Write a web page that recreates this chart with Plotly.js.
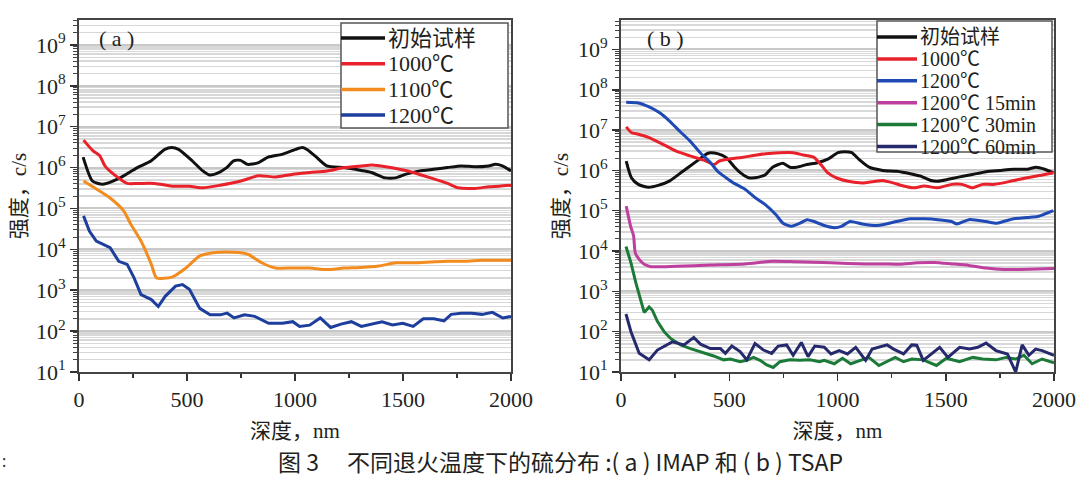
<!DOCTYPE html>
<html>
<head>
<meta charset="utf-8">
<script src="https://cdn.plot.ly/plotly-3.0.1.min.js"></script>
<style>
html,body{margin:0;padding:0;background:#fff;}
#chart{width:1080px;height:478px;}
</style>
</head>
<body>
<div id="chart"></div>
<script>
// ---------------- data: panel (a) IMAP ----------------
var seriesNamesA = ['初始试样', '1000℃', '1100℃', '1200℃'];
var seriesNamesB = ['初始试样', '1000℃', '1200℃', '1200℃ 15min', '1200℃ 30min', '1200℃ 60min'];

var a_init_depth = [19,62,110,190,270,333,397,429,461,525,573,605,636,684,716,748,780,828,876,939,1003,1035,1059,1099,1147,1227,1306,1354,1418,1466,1514,1577,1641,1705,1769,1833,1896,1928,1960,2000];
var a_init_val   = [1.8e6,4.7e5,3.9e5,5.6e5,1.0e6,1.45e6,2.8e6,3.1e6,2.8e6,1.45e6,8.3e5,6.6e5,7.1e5,1.0e6,1.45e6,1.5e6,1.2e6,1.3e6,1.8e6,2.1e6,2.8e6,3.1e6,2.7e6,1.8e6,1.1e6,1.0e6,8.5e5,7.6e5,5.6e5,5.6e5,6.9e5,8.3e5,9.1e5,1.0e6,1.1e6,1.05e6,1.1e6,1.2e6,1.1e6,8.3e5];

var a_1000_depth = [21,64,96,120,160,223,271,351,431,511,575,654,750,830,910,990,1069,1149,1229,1309,1357,1420,1484,1547,1628,1706,1755,1834,1898,1946,2000];
var a_1000_val   = [4.7e6,2.6e6,1.95e6,1.1e6,6.9e5,4.1e5,4.1e5,4.1e5,3.5e5,3.5e5,3.2e5,3.7e5,4.7e5,6.3e5,5.9e5,6.9e5,7.6e5,8.3e5,1.0e6,1.1e6,1.15e6,1.05e6,9.1e5,7.6e5,5.6e5,4.1e5,3.2e5,3.1e5,3.4e5,3.5e5,3.7e5];

var a_1100_depth = [21,80,144,207,239,287,335,359,431,495,559,622,718,782,846,910,990,1068,1148,1227,1307,1387,1468,1547,1627,1706,1786,1866,2000];
var a_1100_val   = [4.7e5,3.0e5,1.8e5,8.7e4,4.2e4,1.6e4,4.3e3,2.0e3,2.1e3,3.5e3,6.9e3,8.3e3,8.5e3,7.6e3,4.7e3,3.5e3,3.5e3,3.5e3,3.2e3,3.5e3,3.6e3,3.9e3,4.7e3,4.7e3,4.9e3,5.1e3,5.1e3,5.4e3,5.4e3];

var a_1200_depth = [21,48,80,112,144,184,223,255,287,335,367,399,447,479,511,559,607,654,686,718,766,814,878,942,990,1021,1068,1117,1165,1213,1261,1307,1355,1403,1451,1499,1547,1594,1643,1690,1723,1770,1818,1866,1914,1962,2000];
var a_1200_val   = [6.6e4,2.8e4,1.6e4,1.3e4,1.1e4,5.1e3,4.3e3,2.0e3,780,590,400,710,1260,1380,1050,360,250,250,275,210,250,230,155,155,170,130,140,210,123,148,170,130,148,170,141,155,130,200,200,178,257,275,275,257,288,209,229];

// ---------------- data: panel (b) TSAP ----------------
var b_init_depth = [24,48,80,127,175,223,286,350,398,414,446,485,525,557,589,636,668,700,748,780,811,859,907,955,1002,1034,1066,1098,1146,1209,1273,1336,1384,1432,1464,1511,1559,1623,1686,1750,1814,1877,1917,1957,1997];
var b_init_val   = [1.7e6,6.6e5,4.5e5,3.8e5,4.3e5,5.4e5,9.5e5,1.7e6,2.6e6,2.75e6,2.6e6,2.1e6,1.2e6,8.3e5,6.6e5,6.8e5,7.9e5,1.2e6,1.5e6,1.2e6,1.2e6,1.4e6,1.55e6,1.9e6,2.75e6,2.9e6,2.75e6,1.9e6,1.2e6,1.0e6,9.5e5,8.3e5,7.2e5,5.6e5,5.4e5,6.0e5,6.8e5,7.9e5,9.3e5,1.0e6,1.07e6,1.07e6,1.2e6,1.07e6,8.7e5];

var b_1000_depth = [24,48,80,127,191,255,318,382,430,453,493,557,605,668,732,796,843,891,923,955,1002,1050,1114,1177,1209,1257,1305,1352,1400,1464,1527,1575,1623,1670,1718,1766,1814,1877,1941,1997];
var b_1000_val   = [1.2e7,8.7e6,7.9e6,6.6e6,4.5e6,3.0e6,2.3e6,1.8e6,1.4e6,1.7e6,1.9e6,2.1e6,2.3e6,2.6e6,2.75e6,2.75e6,2.4e6,2.1e6,1.4e6,8.7e5,6.3e5,5.4e5,4.9e5,5.4e5,5.6e5,4.9e5,4.1e5,3.7e5,4.1e5,3.7e5,4.5e5,4.5e5,3.7e5,4.5e5,4.5e5,4.9e5,5.6e5,6.6e5,7.6e5,8.7e5];

var b_1200_depth = [24,80,127,175,223,270,318,366,414,446,485,525,573,620,668,716,748,787,827,859,891,939,986,1018,1058,1114,1177,1225,1273,1336,1400,1464,1527,1551,1607,1686,1734,1766,1814,1877,1925,1957,1997];
var b_1200_val   = [4.9e7,4.7e7,3.8e7,2.75e7,1.7e7,9.5e6,5.4e6,2.75e6,1.55e6,9.5e5,6.6e5,4.7e5,3.4e5,2.1e5,1.4e5,7.9e4,4.9e4,4.1e4,4.9e4,6.0e4,5.4e4,4.3e4,3.8e4,4.1e4,5.4e4,4.7e4,4.3e4,4.7e4,5.4e4,6.3e4,6.3e4,6.0e4,5.4e4,4.7e4,6.0e4,5.4e4,4.9e4,5.4e4,6.3e4,6.8e4,7.2e4,8.3e4,1.0e5];

var b_15_depth = [24,45,58,66,84,107,138,255,414,573,700,811,970,1130,1209,1289,1368,1448,1527,1607,1686,1766,1845,1925,2000];
var b_15_val   = [1.3e5,4.0e4,2.4e4,9.0e3,6.2e3,4.7e3,4.1e3,4.2e3,4.5e3,4.8e3,5.6e3,5.4e3,5.1e3,4.8e3,4.8e3,4.7e3,5.1e3,5.2e3,4.8e3,4.4e3,3.8e3,3.5e3,3.5e3,3.6e3,3.7e3];

var b_30_depth = [23,46,69,92,107,130,145,168,199,229,275,321,367,428,474,505,550,581,612,642,673,703,734,780,826,872,917,939,985,1023,1061,1107,1145,1191,1229,1267,1305,1343,1396,1457,1503,1564,1625,1671,1732,1778,1823,1861,1899,1945,2000];
var b_30_val   = [1.3e4,5.1e3,1.6e3,620,300,410,340,180,100,68,47,38,32,25,20,21,18,19.5,23,19.5,15,13,18,20,19.5,20,18,19.5,16,22,16,19.5,23,14.5,18,23,18,21,20,14.5,22,18,23,21,20,23,21,26,16,21,17];

var b_60_depth = [23,46,84,130,168,237,291,336,367,413,459,482,512,550,581,619,658,696,726,765,795,833,864,895,939,970,1008,1046,1084,1130,1160,1229,1259,1305,1343,1366,1396,1472,1510,1564,1610,1648,1686,1732,1785,1823,1853,1884,1915,1945,2000];
var b_60_val   = [275,100,29,20,35,56,47,72,49,38,38,29,44,32,20,51,35,29,44,47,26,54,24,44,41,28,34,28,41,19.5,37,47,37,28,47,46,19.5,41,23,41,37,41,52,34,28,10,47,26,37,34,26];

// tick labels
var xTickVals = [0, 500, 1000, 1500, 2000];
var xTickText = ['0', '500', '1000', '1500', '2000'];
var yTickVals = [1e1, 1e2, 1e3, 1e4, 1e5, 1e6, 1e7, 1e8, 1e9];
var yTickText = ['10<sup>1</sup>','10<sup>2</sup>','10<sup>3</sup>','10<sup>4</sup>','10<sup>5</sup>','10<sup>6</sup>','10<sup>7</sup>','10<sup>8</sup>','10<sup>9</sup>'];

var colorsA = ['#111111', '#e8212a', '#f28c1e', '#1d3e9c'];
var colorsB = ['#111111', '#e8212a', '#1f49b4', '#bf3f9e', '#1b7a37', '#262a6c'];

// ---------------- build ----------------
var serifFont = 'Liberation Serif, Noto Sans CJK SC, serif';
var txtColor = '#231f20';

var minorVals = [];
for (var e = 1; e <= 9; e++) { for (var m = 2; m <= 9; m++) { minorVals.push(m * Math.pow(10, e)); } }

function mk(x, y, name, color, xa, ya, shape) {
  return {x: x, y: y, name: name, type: 'scatter', mode: 'lines', xaxis: xa, yaxis: ya,
    line: {color: color, width: 3, shape: shape || 'linear', smoothing: 0.6}, showlegend: false, hoverinfo: 'skip'};
}

var traces = [
  mk(a_init_depth, a_init_val, seriesNamesA[0], colorsA[0], 'x', 'y', 'spline'),
  mk(a_1000_depth, a_1000_val, seriesNamesA[1], colorsA[1], 'x', 'y', 'spline'),
  mk(a_1100_depth, a_1100_val, seriesNamesA[2], colorsA[2], 'x', 'y', 'spline'),
  mk(a_1200_depth, a_1200_val, seriesNamesA[3], colorsA[3], 'x', 'y'),
  mk(b_init_depth, b_init_val, seriesNamesB[0], colorsB[0], 'x2', 'y2', 'spline'),
  mk(b_1000_depth, b_1000_val, seriesNamesB[1], colorsB[1], 'x2', 'y2', 'spline'),
  mk(b_1200_depth, b_1200_val, seriesNamesB[2], colorsB[2], 'x2', 'y2', 'spline'),
  mk(b_15_depth, b_15_val, seriesNamesB[3], colorsB[3], 'x2', 'y2', 'spline'),
  mk(b_30_depth, b_30_val, seriesNamesB[4], colorsB[4], 'x2', 'y2'),
  mk(b_60_depth, b_60_val, seriesNamesB[5], colorsB[5], 'x2', 'y2')
];

var W = 1080, H = 478, ML = 79, MR = 26, MT = 20, MB = 106;
var PW = W - ML - MR, PH = H - MT - MB;
function px(x) { return (x - ML) / PW; }
function py(y) { return (H - MB - y) / PH; }

function xAxis(domain) {
  return {
    domain: domain, range: [0, 2000], tickmode: 'array', tickvals: xTickVals, ticktext: xTickText,
    ticks: 'outside', ticklen: 7, tickwidth: 1.5, tickcolor: '#333',
    minor: {tickmode: 'linear', tick0: 0, dtick: 250, ticks: 'outside', ticklen: 4, tickwidth: 1.5, tickcolor: '#333', showgrid: false},
    showline: true, linecolor: '#444', linewidth: 2, mirror: true, showgrid: false, zeroline: false,
    tickfont: {family: serifFont, size: 22, color: txtColor},
    title: {text: '深度，nm', font: {family: serifFont, size: 21, color: txtColor}, standoff: 12}
  };
}
function yAxis(top, anchor) {
  return {
    type: 'log', range: [1, top], anchor: anchor, tickmode: 'array', tickvals: yTickVals, ticktext: yTickText,
    ticks: 'outside', ticklen: 7, tickwidth: 1.5, tickcolor: '#333',
    minor: {tickmode: 'array', tickvals: minorVals, ticks: 'outside', ticklen: 4, tickwidth: 1, tickcolor: '#444',
            showgrid: true, gridcolor: '#d8d8d8', gridwidth: 1.5},
    showgrid: true, gridcolor: '#c8c8c8', gridwidth: 2,
    showline: true, linecolor: '#444', linewidth: 2, mirror: true, zeroline: false,
    tickfont: {family: serifFont, size: 22, color: txtColor},
    title: {text: '强度，c/s', font: {family: serifFont, size: 21, color: txtColor}, standoff: 4}
  };
}

var shapes = [], annotations = [];

function legend(names, colors, x0, x1, y0, y1, firstY, step, lineEnd, fs) {
  shapes.push({type: 'rect', xref: 'paper', yref: 'paper', x0: px(x0), x1: px(x1), y0: py(y1), y1: py(y0),
    line: {color: '#555', width: 1.5}, fillcolor: '#ffffff', layer: 'above'});
  for (var i = 0; i < names.length; i++) {
    var yy = firstY + i * step;
    shapes.push({type: 'line', xref: 'paper', yref: 'paper', x0: px(x0), x1: px(lineEnd), y0: py(yy), y1: py(yy),
      line: {color: colors[i], width: 3.5}, layer: 'above'});
    annotations.push({xref: 'paper', yref: 'paper', x: px(lineEnd + 1), y: py(yy), xanchor: 'left', yanchor: 'middle',
      text: names[i], showarrow: false, font: {family: serifFont, size: fs, color: txtColor}});
  }
}
legend(seriesNamesA, colorsA, 341, 508, 23, 128, 38, 25.7, 385, 22);
legend(seriesNamesB, colorsB, 877, 1052, 21, 152, 37, 21.9, 917, 20);

annotations.push({xref: 'paper', yref: 'paper', x: px(116), y: py(39), xanchor: 'center', yanchor: 'middle',
  text: '( a )', showarrow: false, font: {family: serifFont, size: 22, color: txtColor}});
annotations.push({xref: 'paper', yref: 'paper', x: px(665), y: py(39), xanchor: 'center', yanchor: 'middle',
  text: '( b )', showarrow: false, font: {family: serifFont, size: 22, color: txtColor}});
annotations.push({xref: 'paper', yref: 'paper', x: px(560), y: py(461), xanchor: 'center', yanchor: 'middle',
  text: '图 3　 不同退火温度下的硫分布 :( a ) IMAP 和 ( b ) TSAP', showarrow: false,
  font: {family: 'Noto Sans CJK SC, Noto Sans, sans-serif', size: 23, color: txtColor}});
annotations.push({xref: 'paper', yref: 'paper', x: px(4), y: py(461), xanchor: 'center', yanchor: 'middle',
  text: ':', showarrow: false, font: {family: 'Noto Sans, sans-serif', size: 16, color: txtColor}});

var layout = {
  width: W, height: H, margin: {l: ML, r: MR, t: MT, b: MB, pad: 0},
  paper_bgcolor: '#ffffff', plot_bgcolor: '#ffffff', showlegend: false,
  xaxis: xAxis([0, 432 / PW]),
  xaxis2: Object.assign(xAxis([(621 - ML) / PW, 1]), {anchor: 'y2'}),
  yaxis: yAxis(9.61, 'x'),
  yaxis2: yAxis(9.73, 'x2'),
  shapes: shapes, annotations: annotations
};
layout.xaxis.anchor = 'y';

Plotly.newPlot('chart', traces, layout, {staticPlot: true, displayModeBar: false});
</script>
</body>
</html>
